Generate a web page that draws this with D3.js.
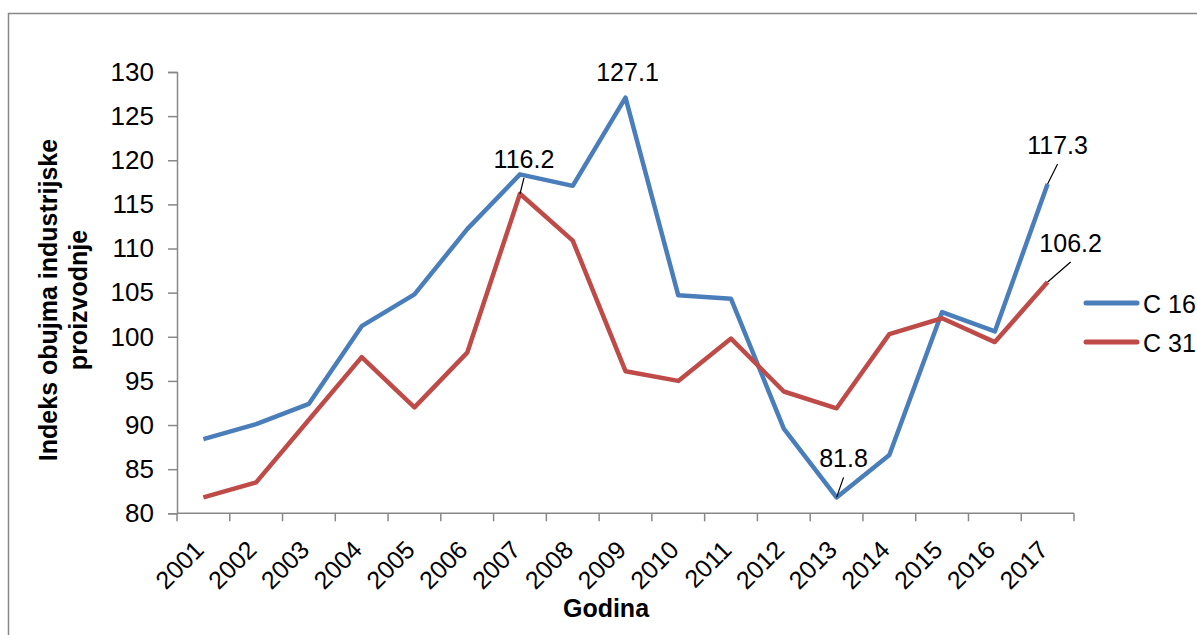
<!DOCTYPE html>
<html><head><meta charset="utf-8">
<script src="https://cdn.jsdelivr.net/npm/d3@7"></script>
<style>body{margin:0;background:#fff;overflow:hidden}text{font-family:"Liberation Sans",Arial,sans-serif}</style>
</head><body>
<svg id="c" width="1197" height="635"></svg>
<script>
const years = ["2001","2002","2003","2004","2005","2006","2007","2008","2009","2010","2011","2012","2013","2014","2015","2016","2017"];
const c16 = [88.4,90.1,92.4,101.2,104.8,112.2,118.4,117.1,127.1,104.7,104.3,89.6,81.8,86.6,102.8,100.6,117.3];
const c31 = [81.8,83.5,90.6,97.7,92.0,98.2,116.2,110.9,96.1,95.0,99.8,93.8,91.9,100.3,102.1,99.4,106.2];
const seriesNames = ["C 16","C 31"];
const yTicks = [80,85,90,95,100,105,110,115,120,125,130];
// labelled points: [series index, year index]
const labelled = [[0,8],[1,6],[0,12],[0,16],[1,16]];

const svg = d3.select("#c");
const FF = "'Liberation Sans',Arial,sans-serif";
svg.append("rect").attr("x",8.5).attr("y",13.5).attr("width",1200).attr("height",640)
  .attr("fill","#fff").attr("stroke","#888").attr("stroke-width",1.5);

const x = d3.scaleBand().domain(years).range([177,1074]);
const y = d3.scaleLinear().domain([80,130]).range([513.3,72]);
const colors = ["#4A7EBB","#BE4B48"];
const grey = "#888";

// y axis
const ya = svg.append("g").attr("transform","translate(177,0)")
  .call(d3.axisLeft(y).tickValues(yTicks).tickSize(9).tickPadding(14));
ya.select(".domain").attr("stroke",grey).attr("stroke-width",1.5);
ya.selectAll(".tick line").attr("stroke",grey).attr("stroke-width",1.5);
ya.selectAll(".tick text").attr("font-size",26).attr("fill","#000").attr("font-family",FF);

// x axis with ticks at category boundaries
const xa = svg.append("g").attr("transform","translate(0,513.3)");
xa.append("line").attr("x1",177).attr("x2",1074).attr("stroke",grey).attr("stroke-width",1.5);
const bounds = years.map(d=>x(d)).concat([x(years[years.length-1])+x.bandwidth()]);
xa.selectAll(".tk").data(bounds).join("line").attr("x1",d=>d).attr("x2",d=>d)
  .attr("y1",0).attr("y2",8).attr("stroke",grey).attr("stroke-width",1.5);
xa.selectAll(".lb").data(years).join("text")
  .attr("transform",d=>`translate(${x(d)+x.bandwidth()/2+2},${38}) rotate(-45)`)
  .attr("text-anchor","end").attr("font-size",25).text(d=>d);

// lines
const line = d3.line().x((d,i)=>x(years[i])+x.bandwidth()/2).y(d=>y(d));
[c16,c31].forEach((s,k)=>{
  svg.append("path").datum(s).attr("d",line).attr("fill","none")
    .attr("stroke",colors[k]).attr("stroke-width",4.5).attr("stroke-linejoin","round");
});

// data labels: [dx of label centre, dy of baseline, leader?]
const offs = {"0,8":[2,-17,false],"1,6":[4,-26,true],"0,12":[7,-30,true],"0,16":[10,-30,true],"1,16":[23,-30,true]};
labelled.forEach(([s,i])=>{
  const v = [c16,c31][s][i];
  const px = x(years[i])+x.bandwidth()/2, py = y(v);
  const o = offs[s+","+i];
  const tx = px+o[0], ty = py+o[1];
  if(o[2]){
    svg.append("line").attr("x1",tx).attr("y1",ty+10).attr("x2",px).attr("y2",py)
      .attr("stroke","#000").attr("stroke-width",1.2);
  }
  svg.append("text").attr("x",tx).attr("y",ty).attr("text-anchor","middle")
    .attr("font-size",25).text(v.toFixed(1));
});

// legend
seriesNames.forEach((n,k)=>{
  const ly = 303 + k*39;
  svg.append("line").attr("x1",1086).attr("x2",1137).attr("y1",ly).attr("y2",ly)
    .attr("stroke",colors[k]).attr("stroke-width",5).attr("stroke-linecap","round");
  svg.append("text").attr("x",1143).attr("y",ly+10).attr("font-size",25).text(n);
});

// axis titles
svg.append("text").attr("transform","translate(57,300) rotate(-90)").attr("text-anchor","middle")
  .attr("font-size",25).attr("font-weight","bold").text("Indeks obujma industrijske");
svg.append("text").attr("transform","translate(87,300) rotate(-90)").attr("text-anchor","middle")
  .attr("font-size",25).attr("font-weight","bold").text("proizvodnje");
svg.append("text").attr("x",606).attr("y",617).attr("text-anchor","middle")
  .attr("font-size",25).attr("font-weight","bold").text("Godina");
</script>
</body></html>
